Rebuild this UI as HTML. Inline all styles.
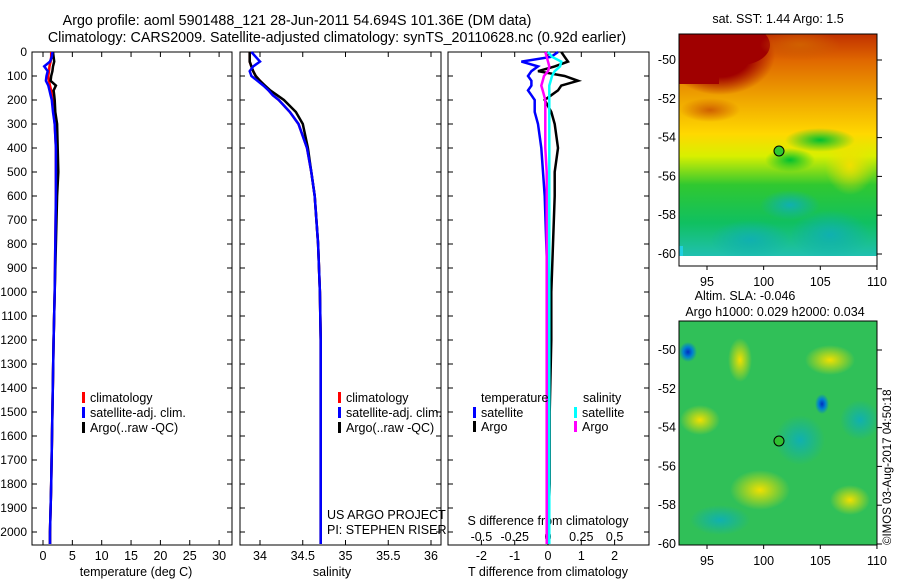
<!DOCTYPE html>
<html><head><meta charset="utf-8"><style>
body{margin:0;background:#fff;width:900px;height:580px;overflow:hidden;font-family:"Liberation Sans",sans-serif}
svg text{font-family:"Liberation Sans",sans-serif;font-size:12.5px;fill:#000}
</style></head><body>
<svg id="c" width="900" height="580">
<defs>
<clipPath id="m1"><rect x="679" y="34" width="198" height="222"/></clipPath>
<clipPath id="m2"><rect x="679" y="321" width="198" height="224"/></clipPath>
<linearGradient id="sstg" x1="0" y1="0" x2="0" y2="1">
<stop offset="0" stop-color="#c03000"/><stop offset="0.12" stop-color="#e06800"/><stop offset="0.3" stop-color="#f0a800"/>
<stop offset="0.45" stop-color="#ffd800"/><stop offset="0.55" stop-color="#d8f000"/><stop offset="0.68" stop-color="#30c830"/>
<stop offset="0.85" stop-color="#10c060"/><stop offset="1" stop-color="#20c0b0"/></linearGradient>
<radialGradient id="red1" cx="0.5" cy="0.5" r="0.5"><stop offset="0.55" stop-color="#a00000"/><stop offset="1" stop-color="#a00000" stop-opacity="0"/></radialGradient>
<radialGradient id="yel" cx="0.5" cy="0.5" r="0.5"><stop offset="0" stop-color="#f0e000"/><stop offset="1" stop-color="#f0e000" stop-opacity="0"/></radialGradient>
<radialGradient id="cya" cx="0.5" cy="0.5" r="0.5"><stop offset="0" stop-color="#10b0b0"/><stop offset="1" stop-color="#10b0b0" stop-opacity="0"/></radialGradient>
<radialGradient id="blu" cx="0.5" cy="0.5" r="0.5"><stop offset="0" stop-color="#0030c0"/><stop offset="0.5" stop-color="#0080d0"/><stop offset="1" stop-color="#0080d0" stop-opacity="0"/></radialGradient>
<radialGradient id="grn" cx="0.5" cy="0.5" r="0.5"><stop offset="0" stop-color="#00c030"/><stop offset="1" stop-color="#00c030" stop-opacity="0"/></radialGradient>
<radialGradient id="org" cx="0.5" cy="0.5" r="0.5"><stop offset="0" stop-color="#d06000"/><stop offset="1" stop-color="#d06000" stop-opacity="0"/></radialGradient>
</defs>
<text x="297" y="25" text-anchor="middle" style="font-size:14.3px">Argo profile: aoml 5901488_121 28-Jun-2011 54.694S 101.36E (DM data)</text>
<text x="337" y="42" text-anchor="middle" style="font-size:14.3px">Climatology: CARS2009. Satellite-adjusted climatology: synTS_20110628.nc (0.92d earlier)</text>
<g id="g"></g>
<g>
<g clip-path="url(#m1)">
<rect x="679" y="34" width="198" height="222" fill="url(#sstg)"/>
<ellipse cx="720" cy="55" rx="55" ry="40" fill="url(#red1)"/>
<ellipse cx="740" cy="45" rx="30" ry="20" fill="#a00000"/>
<rect x="679" y="34" width="40" height="50" fill="#a00000"/>
<ellipse cx="800" cy="45" rx="40" ry="15" fill="url(#org)"/>
<ellipse cx="710" cy="110" rx="30" ry="12" fill="url(#org)"/>
<ellipse cx="850" cy="165" rx="25" ry="30" fill="url(#yel)"/>
<ellipse cx="750" cy="240" rx="40" ry="20" fill="url(#cya)"/>
<ellipse cx="830" cy="235" rx="40" ry="25" fill="url(#cya)"/>
<ellipse cx="790" cy="205" rx="30" ry="15" fill="url(#cya)"/>
<ellipse cx="820" cy="140" rx="35" ry="12" fill="url(#grn)"/>
<ellipse cx="790" cy="160" rx="25" ry="12" fill="url(#grn)"/>
<rect x="679" y="246" width="4" height="10" fill="#20d0e0"/>
</g>
<circle cx="779" cy="151" r="5" fill="#30c830" stroke="#000"/>
<rect x="679" y="34" width="198" height="232" fill="none" stroke="#000"/>
</g>
<g>
<g clip-path="url(#m2)">
<rect x="679" y="321" width="198" height="224" fill="#30c058"/>
<ellipse cx="740" cy="360" rx="12" ry="22" fill="url(#yel)"/>
<ellipse cx="760" cy="490" rx="30" ry="20" fill="url(#yel)"/>
<ellipse cx="830" cy="360" rx="25" ry="15" fill="url(#yel)"/>
<ellipse cx="700" cy="420" rx="20" ry="15" fill="url(#yel)"/>
<ellipse cx="850" cy="500" rx="20" ry="15" fill="url(#yel)"/>
<ellipse cx="800" cy="440" rx="25" ry="25" fill="url(#cya)"/>
<ellipse cx="720" cy="520" rx="30" ry="15" fill="url(#cya)"/>
<ellipse cx="860" cy="420" rx="20" ry="20" fill="url(#cya)"/>
<ellipse cx="688" cy="352" rx="9" ry="10" fill="url(#blu)"/>
<ellipse cx="822" cy="404" rx="7" ry="10" fill="url(#blu)"/>
</g>
<circle cx="779" cy="441" r="5" fill="#30c030" stroke="#000"/>
<rect x="679" y="321" width="198" height="224" fill="none" stroke="#000"/>
</g>
<text x="778" y="23" text-anchor="middle">sat. SST: 1.44 Argo: 1.5</text>
<text x="745" y="300" text-anchor="middle">Altim. SLA: -0.046</text>
<text x="775" y="316" text-anchor="middle">Argo h1000: 0.029 h2000: 0.034</text>
<text transform="translate(891,545) rotate(-90)" style="font-size:11.5px">©IMOS 03-Aug-2017 04:50:18</text>
<text x="327" y="519">US ARGO PROJECT</text>
<text x="327" y="534">PI: STEPHEN RISER</text>
</svg>
<script>
const depths=[0,20,40,60,80,100,120,140,160,180,200,250,300,400,500,600,800,1000,1200,1500,1800,2000,2050];
const tClim=[1.4,1.4,1.3,1.1,1.0,0.9,1.0,1.2,1.4,1.5,1.6,1.8,2.0,2.2,2.2,2.2,2.1,2.0,1.8,1.6,1.4,1.2,1.2];
const tSat=[1.6,1.5,1.2,0.2,0.8,0.6,0.5,0.9,1.1,1.3,1.5,1.7,2.0,2.2,2.2,2.2,2.1,2.0,1.8,1.6,1.4,1.2,1.2];
const tArgo=[1.7,1.8,1.9,1.7,1.6,1.4,1.3,2.2,1.8,1.9,2.0,2.1,2.4,2.5,2.6,2.4,2.2,2.0,1.8,1.6,1.4,1.2,1.2];
const sClim=[33.88,33.88,33.88,33.9,33.92,33.95,34.0,34.05,34.1,34.15,34.22,34.35,34.45,34.55,34.6,34.64,34.68,34.7,34.71,34.71,34.71,34.71,34.71];
const sSat=[33.9,33.95,34.0,33.92,33.88,33.9,33.97,34.04,34.1,34.15,34.22,34.35,34.45,34.55,34.6,34.64,34.68,34.7,34.71,34.71,34.71,34.71,34.71];
const sArgo=[33.88,33.88,33.88,33.9,33.92,33.95,34.0,34.06,34.12,34.2,34.28,34.42,34.5,34.56,34.6,34.64,34.68,34.7,34.71,34.71,34.71,34.71,34.71];
const dtSat=[0.3,0.1,-0.8,-0.3,-0.5,-0.6,-0.5,-0.5,-0.6,-0.5,-0.4,-0.4,-0.3,-0.2,-0.15,-0.1,-0.05,0,0,0,0,0,0];
const dtArgo=[0.4,0.5,0.6,0.2,-0.3,0.5,0.9,0.4,0.3,0.1,-0.1,0.1,0.2,0.3,0.2,0.2,0.15,0.1,0.1,0.05,0.05,0,0];
const dsSat=[0,0.03,0.1,0.09,0.05,0.03,0.02,0.01,0.01,0.01,0.01,0.01,0.01,0.01,0.01,0.01,0.01,0.01,0.01,0.01,0.01,0.01,0.01];
const dsArgo=[-0.02,-0.01,0,0.01,0,-0.03,-0.04,-0.05,-0.04,-0.03,-0.02,-0.02,-0.02,-0.02,-0.01,-0.01,-0.01,-0.01,-0.01,-0.01,-0.01,-0.01,-0.01];
const depthTicks=[0,100,200,300,400,500,600,700,800,900,1000,1100,1200,1300,1400,1500,1600,1700,1800,1900,2000];
const tTicks=[0,5,10,15,20,25,30];
const sTicks=[34,34.5,35,35.5,36];
const dtTicks=[-2,-1,0,1,2];
const dsTicks=[-0.5,-0.25,0,0.25,0.5];
const latTicks=[-50,-52,-54,-56,-58,-60];
const lonTicks=[95,100,105,110];

const NS='http://www.w3.org/2000/svg';
const G=document.getElementById('g');
function mk(t,a,txt){const e=document.createElementNS(NS,t);for(const k in a)e.setAttribute(k,a[k]);if(txt!==undefined)e.textContent=txt;G.appendChild(e);return e;}
const yD=d=>52+d*0.24;
const xT=v=>43+v*5.87;
const xS=v=>260+(v-34)*85.5;
const xDT=v=>548+v*33.3;
const xDS=v=>548+v*133.2;
function frame(x0,x1,name){const r=mk('rect',{x:x0,y:52,width:x1-x0,height:493,fill:'none',stroke:'#000'});

}
function line(xf,vals,col,name){const p=depths.map((d,i)=>xf(vals[i]).toFixed(1)+','+yD(d).toFixed(1)).join(' ');
const e=mk('polyline',{points:p,fill:'none',stroke:col,'stroke-width':2.5});

}
function xticks(vals,xf,y,name){vals.forEach(v=>{const x=xf(v);mk('line',{x1:x,x2:x,y1:545,y2:540,stroke:'#000'});mk('line',{x1:x,x2:x,y1:52,y2:57,stroke:'#000'});
const t=mk('text',{x:x,y:y,'text-anchor':'middle'},String(v));

});}
frame(32,232,'temperature-panel');frame(240,441,'salinity-panel');frame(448,649,'difference-panel');
depthTicks.forEach(d=>{const y=yD(d);
const t=mk('text',{x:27,y:y+4,'text-anchor':'end',style:'font-size:12px'},String(d));


[[32,1],[232,-1],[240,1],[441,-1],[448,1],[649,-1]].forEach(([x,s])=>mk('line',{x1:x,x2:x+5*s,y1:y,y2:y,stroke:'#000'}));});
xticks(tTicks,xT,560,'temperature-tick-label');
xticks(sTicks,xS,560,'salinity-tick-label');
xticks(dtTicks,xDT,560,'t-diff-tick-label');
dsTicks.forEach(v=>{const t=mk('text',{x:xDS(v),y:541,'text-anchor':'middle'},String(v));

});
[['temperature (deg C)',136,'temperature-axis-title'],['salinity',332,'salinity-axis-title'],['T difference from climatology',548,'t-diff-axis-title']].forEach(([s,x,n])=>{const t=mk('text',{x:x,y:576,'text-anchor':'middle'},s);

});
const st=mk('text',{x:548,y:525,'text-anchor':'middle'},'S difference from climatology');


line(xT,tClim,'#f00','temp-climatology');line(xT,tArgo,'#000','temp-argo');line(xT,tSat,'#00f','temp-satellite-adj');
line(xS,sClim,'#f00','sal-climatology');line(xS,sArgo,'#000','sal-argo');line(xS,sSat,'#00f','sal-satellite-adj');
line(xDT,dtArgo,'#000','tdiff-argo');line(xDT,dtSat,'#00f','tdiff-satellite');line(xDS,dsSat,'#0ff','sdiff-satellite');line(xDS,dsArgo,'#f0f','sdiff-argo');
function leg(x,y,col,txt,name){const r=mk('rect',{x:x,y:y-10,width:3,height:11,fill:col});


const t=mk('text',{x:x+8,y:y},txt);

}
[[82,'temp'],[338,'sal']].forEach(([x,p])=>{leg(x,402,'#f00','climatology',p+'-legend-climatology');leg(x,417,'#00f','satellite-adj. clim.',p+'-legend-satellite');leg(x,432,'#000','Argo(..raw -QC)',p+'-legend-argo');});
const lt=mk('text',{x:481,y:402},'temperature');
const ls=mk('text',{x:583,y:402},'salinity');
leg(473,417,'#00f','satellite','diff-legend-t-satellite');leg(473,431,'#000','Argo','diff-legend-t-argo');
leg(574,417,'#0ff','satellite','diff-legend-s-satellite');leg(574,431,'#f0f','Argo','diff-legend-s-argo');
function mapAxes(yf,bottom){latTicks.forEach(v=>{const y=yf(v);mk('line',{x1:877,x2:882,y1:y,y2:y,stroke:'#000'});mk('line',{x1:679,x2:684,y1:y,y2:y,stroke:'#000'});
const t=mk('text',{x:676,y:y+4,'text-anchor':'end'},String(v));

});
lonTicks.forEach(v=>{const x=707+(v-95)*11.33;mk('line',{x1:x,x2:x,y1:bottom,y2:bottom+4,stroke:'#000'});
const t=mk('text',{x:x,y:bottom+20,'text-anchor':'middle'},String(v));

});}
mapAxes(v=>60+(-50-v)*19.4,266);
mapAxes(v=>350+(-50-v)*19.4,545);
</script>
</body></html>
